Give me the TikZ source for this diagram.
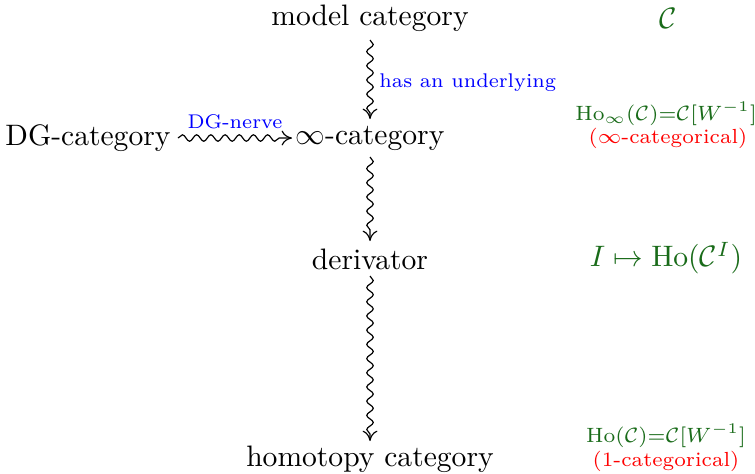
\documentclass[tikz,border=0pt]{standalone}
\usetikzlibrary{decorations.pathmorphing,arrows.meta}
\definecolor{dgreen}{rgb}{0.1,0.42,0.1}
\newcommand{\smallfs}{\fontsize{6.7}{8}\selectfont}
\newcommand{\sidefs}{\fontsize{6.9}{8}\selectfont}
\begin{document}
\begin{tikzpicture}[x=0.338pt,y=-0.338pt,
  obj/.style={inner sep=0pt,anchor=center},
  lab/.style={font=\smallfs,text=blue,inner sep=2pt},
  side/.style={text=dgreen,inner sep=0pt},
  sidesmall/.style={text=dgreen,font=\sidefs,inner sep=0pt},
  note/.style={text=red,font=\sidefs,inner sep=0pt},
  squig/.style={-{Computer Modern Rightarrow[length=3.5pt,width=5pt]},decorate,decoration={snake,amplitude=1.1pt,segment length=4.8pt,post length=2pt}}]
\useasboundingbox (0,0) rectangle (755,473);
\node[obj] (mc) at (370,18) {model category};
\node[obj] (ic) at (370,138) {$\infty$-category};
\node[obj] (dg) at (88,138) {DG-category};
\node[obj] (der) at (370,259) {derivator};
\node[obj] (hc) at (370,459) {homotopy category};
\coordinate (a1s) at (370,40);
\coordinate (a1e) at (370,119);
\coordinate (a2s) at (370,157);
\coordinate (a2e) at (370,241);
\coordinate (a3s) at (370,276);
\coordinate (a3e) at (370,441);
\coordinate (h1s) at (178,138);
\coordinate (h1e) at (292,138);
\draw[squig] (a1s) -- node[lab,right,xshift=1pt,yshift=-1pt] {has an underlying} (a1e);
\draw[squig] (a2s) -- (a2e);
\draw[squig] (a3s) -- (a3e);
\draw[squig] (h1s) -- node[lab,above,yshift=1pt] {DG-nerve} (h1e);
\node[side] (c) at (668,18) {$\mathcal{C}$};
\node[sidesmall] (hoi) at (666,114) {$\mathrm{Ho}_\infty(\mathcal{C})$=$\mathcal{C}[W^{-1}]$};
\node[note] (ic2) at (668,138) {($\infty$-categorical)};
\node[side] (ihc) at (666,258) {$I\mapsto\mathrm{Ho}(\mathcal{C}^I)$};
\node[sidesmall] (ho) at (666,436) {$\mathrm{Ho}(\mathcal{C})$=$\mathcal{C}[W^{-1}]$};
\node[note] (oc) at (666,461) {(1-categorical)};
\end{tikzpicture}
\end{document}
